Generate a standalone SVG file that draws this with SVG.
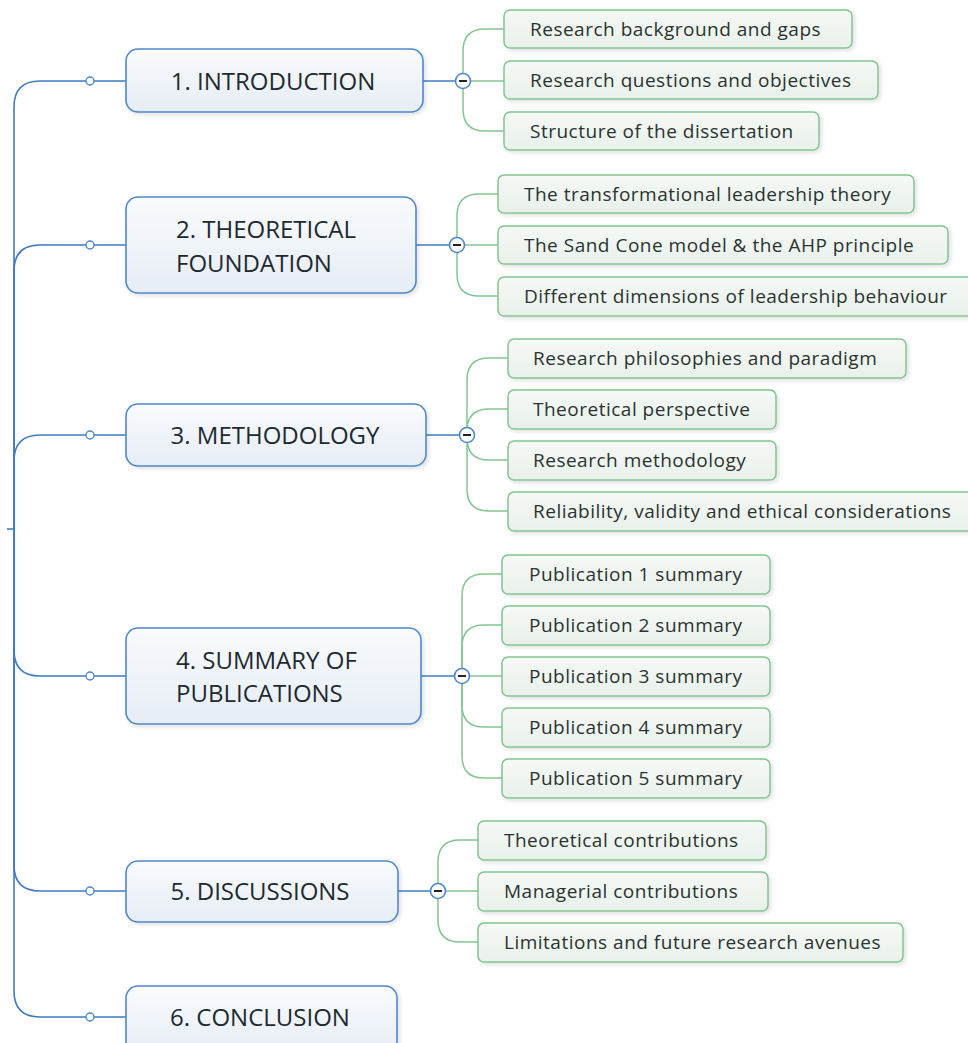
<svg xmlns="http://www.w3.org/2000/svg" width="968" height="1043" viewBox="0 0 968 1043">
  <defs>
    <linearGradient id="topicFill" x1="0" y1="0" x2="0" y2="1">
      <stop offset="0" stop-color="#f9fbfd"/>
      <stop offset="1" stop-color="#e6edf5"/>
    </linearGradient>
    <linearGradient id="subFill" x1="0" y1="0" x2="0" y2="1">
      <stop offset="0" stop-color="#f6f9f6"/>
      <stop offset="1" stop-color="#e9f0ea"/>
    </linearGradient>
    <filter id="shadow" x="-5%" y="-10%" width="115%" height="130%">
      <feDropShadow dx="2" dy="2" stdDeviation="2" flood-color="#000" flood-opacity="0.12"/>
    </filter>
  </defs>
  <style>
    .topic { fill: url(#topicFill); stroke: #4f88c9; stroke-width: 1.6; filter: url(#shadow); }
    .sub { fill: url(#subFill); stroke: #82c593; stroke-width: 1.5; filter: url(#shadow); }
    .tt { font-family: "Open Sans", "Noto Sans", "Liberation Sans", sans-serif; font-size: 24px; fill: #1f2a30; }
    .st { font-family: "Open Sans", "Noto Sans", "Liberation Sans", sans-serif; font-size: 19px; letter-spacing: 0.5px; fill: #2a3330; }
    .blue { fill: none; stroke: #3f7cc3; stroke-width: 1.6; }
    .green { fill: none; stroke: #82c593; stroke-width: 1.5; }
    .knob { fill: #ffffff; stroke: #4f88c9; stroke-width: 1.4; }
    .fold { fill: #ffffff; stroke: #4f88c9; stroke-width: 1.6; }
    .minus { stroke: #222; stroke-width: 2; }
  </style>

  <rect width="968" height="1043" fill="#ffffff"/>

  <!-- connectors -->
  <g id="connectors">
    <!-- trunk from the central topic -->
    <path class="blue" d="M7,529 H14"/>
    <path class="blue" d="M14,529 V107 Q14,81 40,81 H126"/>
    <path class="blue" d="M14,529 V271 Q14,245 40,245 H126"/>
    <path class="blue" d="M14,529 V461 Q14,435 40,435 H126"/>
    <path class="blue" d="M14,529 V650 Q14,676 40,676 H126"/>
    <path class="blue" d="M14,529 V865 Q14,891 40,891 H126"/>
    <path class="blue" d="M14,529 V991 Q14,1017 40,1017 H126"/>
    <!-- topic to fold button -->
    <path class="blue" d="M423,81 H463"/>
    <path class="blue" d="M416,245 H457"/>
    <path class="blue" d="M426,435 H467"/>
    <path class="blue" d="M421,676 H462"/>
    <path class="blue" d="M398,891 H438"/>

    <!-- 1. introduction subtopics -->
    <path class="green" d="M463,81 V51 Q463,29 485,29 H504"/>
    <path class="green" d="M463,81 H504"/>
    <path class="green" d="M463,81 V109 Q463,131 485,131 H504"/>
    <!-- 2. theoretical foundation subtopics -->
    <path class="green" d="M457,245 V216 Q457,194 479,194 H498"/>
    <path class="green" d="M457,245 H498"/>
    <path class="green" d="M457,245 V274 Q457,296 479,296 H498"/>
    <!-- 3. methodology subtopics -->
    <path class="green" d="M467,435 V380 Q467,358 489,358 H508"/>
    <path class="green" d="M467,435 V431 Q467,409 489,409 H508"/>
    <path class="green" d="M467,435 V438 Q467,460 489,460 H508"/>
    <path class="green" d="M467,435 V489 Q467,511 489,511 H508"/>
    <!-- 4. summary of publications subtopics -->
    <path class="green" d="M462,676 V596 Q462,574 484,574 H502"/>
    <path class="green" d="M462,676 V647 Q462,625 484,625 H502"/>
    <path class="green" d="M462,676 H502"/>
    <path class="green" d="M462,676 V705 Q462,727 484,727 H502"/>
    <path class="green" d="M462,676 V756 Q462,778 484,778 H502"/>
    <!-- 5. discussions subtopics -->
    <path class="green" d="M438,891 V862 Q438,840 460,840 H478"/>
    <path class="green" d="M438,891 H478"/>
    <path class="green" d="M438,891 V920 Q438,942 460,942 H478"/>

    <!-- knobs on the trunk -->
    <circle class="knob" cx="90" cy="81" r="4"/>
    <circle class="knob" cx="90" cy="245" r="4"/>
    <circle class="knob" cx="90" cy="435" r="4"/>
    <circle class="knob" cx="90" cy="676" r="4"/>
    <circle class="knob" cx="90" cy="891" r="4"/>
    <circle class="knob" cx="90" cy="1017" r="4"/>

    <!-- fold buttons -->
    <g><circle class="fold" cx="463" cy="81" r="7.5"/><path class="minus" d="M459,81 H467"/></g>
    <g><circle class="fold" cx="457" cy="245" r="7.5"/><path class="minus" d="M453,245 H461"/></g>
    <g><circle class="fold" cx="467" cy="435" r="7.5"/><path class="minus" d="M463,435 H471"/></g>
    <g><circle class="fold" cx="462" cy="676" r="7.5"/><path class="minus" d="M458,676 H466"/></g>
    <g><circle class="fold" cx="438" cy="891" r="7.5"/><path class="minus" d="M434,891 H442"/></g>
  </g>

  <!-- main topics -->
  <g id="topic-introduction">
    <rect class="topic" x="126" y="49" width="297" height="63" rx="12"/>
    <text class="tt" x="273" y="89.5" text-anchor="middle">1. INTRODUCTION</text>
  </g>
  <g id="topic-theoretical-foundation">
    <rect class="topic" x="126" y="197" width="290" height="96" rx="12"/>
    <text class="tt" x="176" y="238">2. THEORETICAL</text>
    <text class="tt" x="176" y="271.5">FOUNDATION</text>
  </g>
  <g id="topic-methodology">
    <rect class="topic" x="126" y="404" width="300" height="62" rx="12"/>
    <text class="tt" x="275" y="443.5" text-anchor="middle">3. METHODOLOGY</text>
  </g>
  <g id="topic-summary-of-publications">
    <rect class="topic" x="126" y="628" width="295" height="96" rx="12"/>
    <text class="tt" x="176" y="669">4. SUMMARY OF</text>
    <text class="tt" x="176" y="702">PUBLICATIONS</text>
  </g>
  <g id="topic-discussions">
    <rect class="topic" x="126" y="861" width="272" height="61" rx="12"/>
    <text class="tt" x="260" y="899.5" text-anchor="middle">5. DISCUSSIONS</text>
  </g>
  <g id="topic-conclusion">
    <rect class="topic" x="126" y="986" width="271" height="70" rx="12"/>
    <text class="tt" x="260" y="1025.5" text-anchor="middle">6. CONCLUSION</text>
  </g>

  <!-- subtopics: introduction -->
  <g id="sub-background">
    <rect class="sub" x="504" y="10" width="348" height="38" rx="6"/>
    <text class="st" x="530" y="36">Research background and gaps</text>
  </g>
  <g id="sub-questions">
    <rect class="sub" x="504" y="61" width="374" height="38" rx="6"/>
    <text class="st" x="530" y="87">Research questions and objectives</text>
  </g>
  <g id="sub-structure">
    <rect class="sub" x="504" y="112" width="315" height="38" rx="6"/>
    <text class="st" x="530" y="138">Structure of the dissertation</text>
  </g>

  <!-- subtopics: theoretical foundation -->
  <g id="sub-transformational">
    <rect class="sub" x="498" y="175" width="416" height="38" rx="6"/>
    <text class="st" x="524" y="201">The transformational leadership theory</text>
  </g>
  <g id="sub-sandcone">
    <rect class="sub" x="498" y="226" width="450" height="38" rx="6"/>
    <text class="st" x="524" y="252">The Sand Cone model &amp; the AHP principle</text>
  </g>
  <g id="sub-dimensions">
    <rect class="sub" x="498" y="277" width="478" height="39" rx="6"/>
    <text class="st" x="524" y="303">Different dimensions of leadership behaviour</text>
  </g>

  <!-- subtopics: methodology -->
  <g id="sub-philosophies">
    <rect class="sub" x="508" y="339" width="398" height="39" rx="6"/>
    <text class="st" x="533" y="365">Research philosophies and paradigm</text>
  </g>
  <g id="sub-perspective">
    <rect class="sub" x="508" y="390" width="268" height="39" rx="6"/>
    <text class="st" x="533" y="416">Theoretical perspective</text>
  </g>
  <g id="sub-research-methodology">
    <rect class="sub" x="508" y="441" width="268" height="39" rx="6"/>
    <text class="st" x="533" y="467">Research methodology</text>
  </g>
  <g id="sub-reliability">
    <rect class="sub" x="508" y="492" width="470" height="39" rx="6"/>
    <text class="st" x="533" y="518">Reliability, validity and ethical considerations</text>
  </g>

  <!-- subtopics: summary of publications -->
  <g id="sub-pub1">
    <rect class="sub" x="502" y="555" width="268" height="39" rx="6"/>
    <text class="st" x="529" y="581">Publication 1 summary</text>
  </g>
  <g id="sub-pub2">
    <rect class="sub" x="502" y="606" width="268" height="39" rx="6"/>
    <text class="st" x="529" y="632">Publication 2 summary</text>
  </g>
  <g id="sub-pub3">
    <rect class="sub" x="502" y="657" width="268" height="39" rx="6"/>
    <text class="st" x="529" y="683">Publication 3 summary</text>
  </g>
  <g id="sub-pub4">
    <rect class="sub" x="502" y="708" width="268" height="39" rx="6"/>
    <text class="st" x="529" y="734">Publication 4 summary</text>
  </g>
  <g id="sub-pub5">
    <rect class="sub" x="502" y="759" width="268" height="39" rx="6"/>
    <text class="st" x="529" y="785">Publication 5 summary</text>
  </g>

  <!-- subtopics: discussions -->
  <g id="sub-theoretical-contrib">
    <rect class="sub" x="478" y="821" width="288" height="39" rx="6"/>
    <text class="st" x="504" y="847">Theoretical contributions</text>
  </g>
  <g id="sub-managerial-contrib">
    <rect class="sub" x="478" y="872" width="290" height="39" rx="6"/>
    <text class="st" x="504" y="898">Managerial contributions</text>
  </g>
  <g id="sub-limitations">
    <rect class="sub" x="478" y="923" width="425" height="39" rx="6"/>
    <text class="st" x="504" y="949">Limitations and future research avenues</text>
  </g>
</svg>
